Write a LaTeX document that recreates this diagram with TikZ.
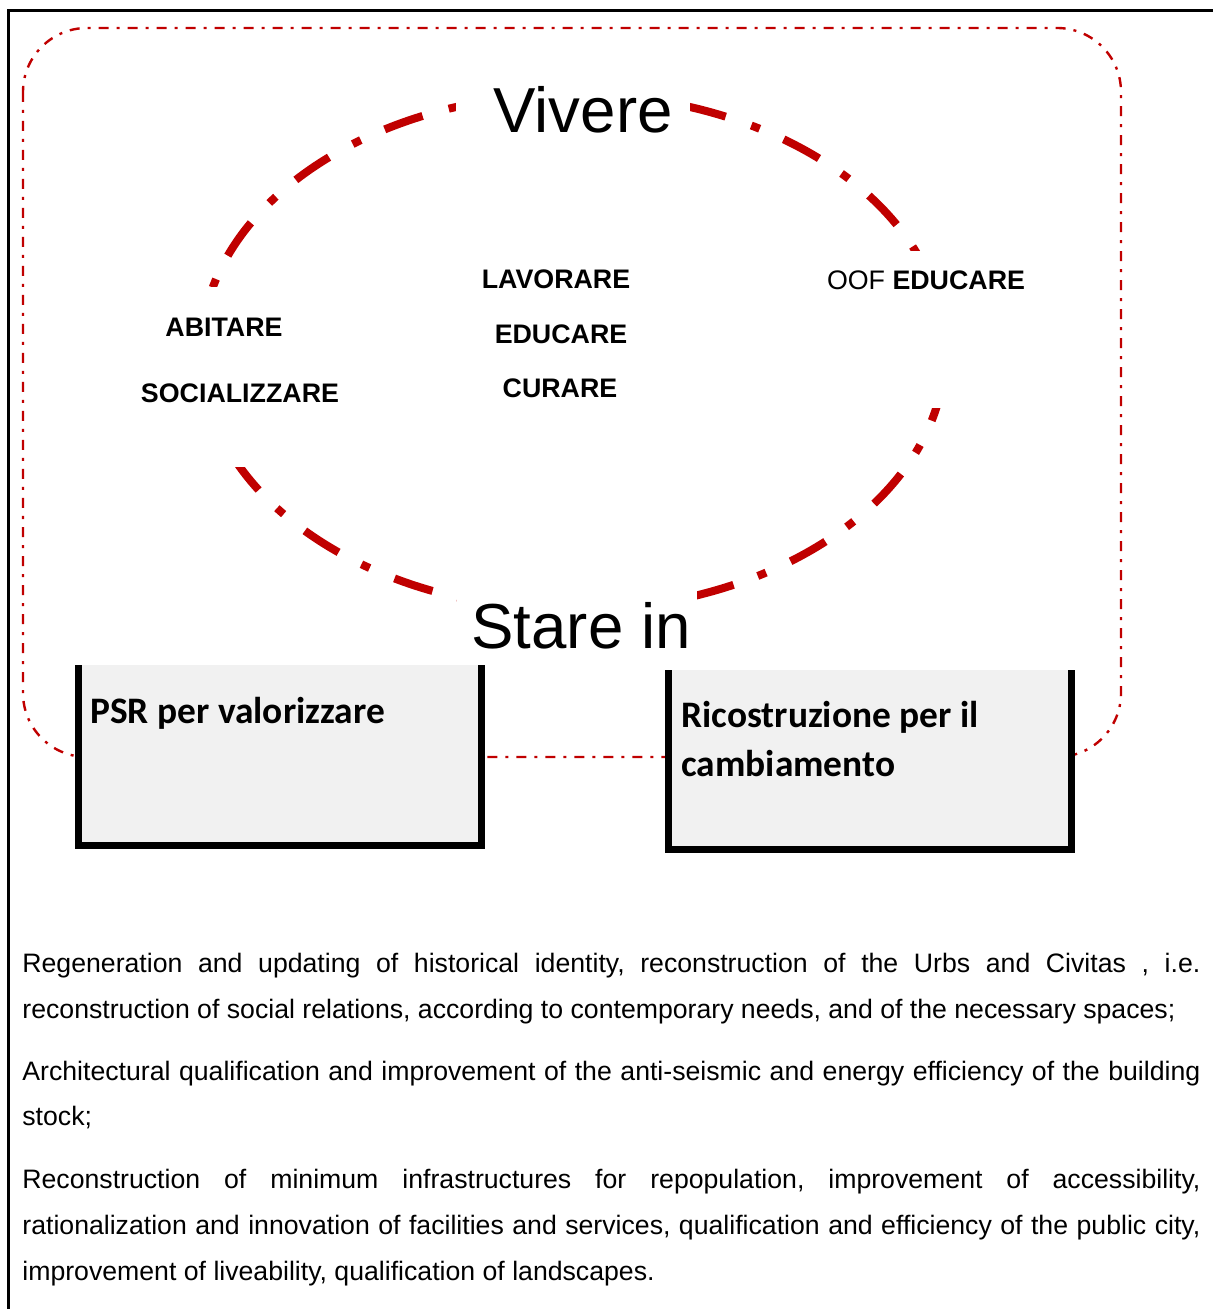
\documentclass[tikz,border=0pt]{standalone}
\usepackage{fontspec}
\setmainfont{Liberation Sans}
\newfontfamily\calibri{Carlito}
\definecolor{dred}{HTML}{C00000}
\definecolor{boxgray}{HTML}{F1F1F1}
\begin{document}
\frenchspacing
\begin{tikzpicture}[x=0.5pt,y=-0.5pt,
  frameline/.style={line width=1.3pt, black},
  outerdash/.style={draw=dred, line width=1.2pt, dash pattern=on 5pt off 4pt on 1.5pt off 4pt, rounded corners=32pt},
  ringtop/.style={draw=dred, line width=4pt, dash pattern=on 20.1pt off 13.1pt on 4.5pt off 13.55pt, dash phase=33pt},
  ringbot/.style={draw=dred, line width=4pt, dash pattern=on 20pt off 12.9pt on 4.5pt off 13.5pt, dash phase=45.25pt},
  mask/.style={fill=white, inner sep=0pt},
  kw/.style={font=\fontsize{13.4pt}{15pt}\selectfont\bfseries, inner sep=0pt, anchor=base},
  kwplain/.style={font=\fontsize{13.4pt}{15pt}\selectfont, inner sep=0pt, anchor=base},
  big/.style={font=\fontsize{31.8pt}{36pt}\selectfont, inner sep=0pt, anchor=base},
  boxfill/.style={fill=boxgray, inner sep=0pt, anchor=north west},
  boxline/.style={line width=3.5pt, black},
  boxtext/.style={font=\calibri\bfseries\fontsize{18.7pt}{24pt}\selectfont, inner sep=0pt, anchor=base west},
  body/.style={font=\fontsize{13.33pt}{15pt}\selectfont\frenchspacing, inner sep=0pt, anchor=base west}
]
\useasboundingbox (0,0) rectangle (1212,1309);

% outer frame (top and left)
\coordinate (ftr) at (1213,10.5);
\coordinate (ftl) at (8.5,10.5);
\coordinate (fbl) at (8.5,1310);
\draw[frameline] (ftr) -- (ftl) -- (fbl);

% thin dash-dot rounded rectangle
\draw[outerdash] (23,28) rectangle (1121,757);

% thick dash-dot ring (upper and lower halves)
\coordinate (ringR) at (945,352);
\coordinate (ringL) at (201,352);
\draw[ringtop] (ringR) arc [start angle=0, end angle=180, x radius=186pt, y radius=129pt];
\draw[ringbot] (ringL) arc [start angle=180, end angle=360, x radius=186pt, y radius=129pt];

% white text-box backgrounds interrupting the ring
\node[mask, minimum width=117pt, minimum height=37.5pt] (vivmask) at (573,107.5) {};
\node[mask, minimum width=110pt, minimum height=90pt] (leftmask) at (240,377) {};
\node[mask, minimum width=105pt, minimum height=78.5pt] (rightmask) at (925,329.5) {};
\node[mask, minimum width=120pt, minimum height=42pt] (staremask) at (577,620) {};

% big labels
\node[big] (vivere) at (583,133) {Vivere};
\node[big] (stare) at (581,648) {Stare in};

% keywords
\node[kw] (abitare) at (224,337) {ABITARE};
\node[kw] (social) at (240,403) {SOCIALIZZARE};
\node[kw] (lavorare) at (556,289) {LAVORARE};
\node[kw] (educare) at (561,344) {EDUCARE};
\node[kw] (curare) at (560,398) {CURARE};
\node[kwplain] (oof) at (926,290) {OOF \textbf{EDUCARE}};

% boxes
\node[boxfill, minimum width=201.25pt, minimum height=89.75pt] (psr) at (78,665) {};
\draw[boxline] (psr.north west) -- (psr.south west) -- (psr.south east) -- (psr.north east);
\node[boxfill, minimum width=201pt, minimum height=89.25pt] (ric) at (668.5,670) {};
\draw[boxline] (ric.north west) -- (ric.south west) -- (ric.south east) -- (ric.north east);

\node[boxtext] (psrt) at (90,723) {PSR per valorizzare};
\node[boxtext] (rict1) at (681,727) {Ricostruzione per il};
\node[boxtext] (rict2) at (681,776) {cambiamento};

% body text
\node[body] (p1a) at (22,972) {\makebox[589pt][s]{Regeneration and updating of historical identity, reconstruction of the Urbs and Civitas , i.e.}};
\node[body] (p1b) at (22,1018) {reconstruction of social relations, according to contemporary needs, and of the necessary spaces;};
\node[body] (p2a) at (22,1080) {\makebox[589pt][s]{Architectural qualification and improvement of the anti-seismic and energy efficiency of the building}};
\node[body] (p2b) at (22,1125) {stock;};
\node[body] (p3a) at (22,1188) {\makebox[589pt][s]{Reconstruction of minimum infrastructures for repopulation, improvement of accessibility,}};
\node[body] (p3b) at (22,1234) {\makebox[589pt][s]{rationalization and innovation of facilities and services, qualification and efficiency of the public city,}};
\node[body] (p3c) at (22,1280) {improvement of liveability, qualification of landscapes.};
\end{tikzpicture}
\end{document}
